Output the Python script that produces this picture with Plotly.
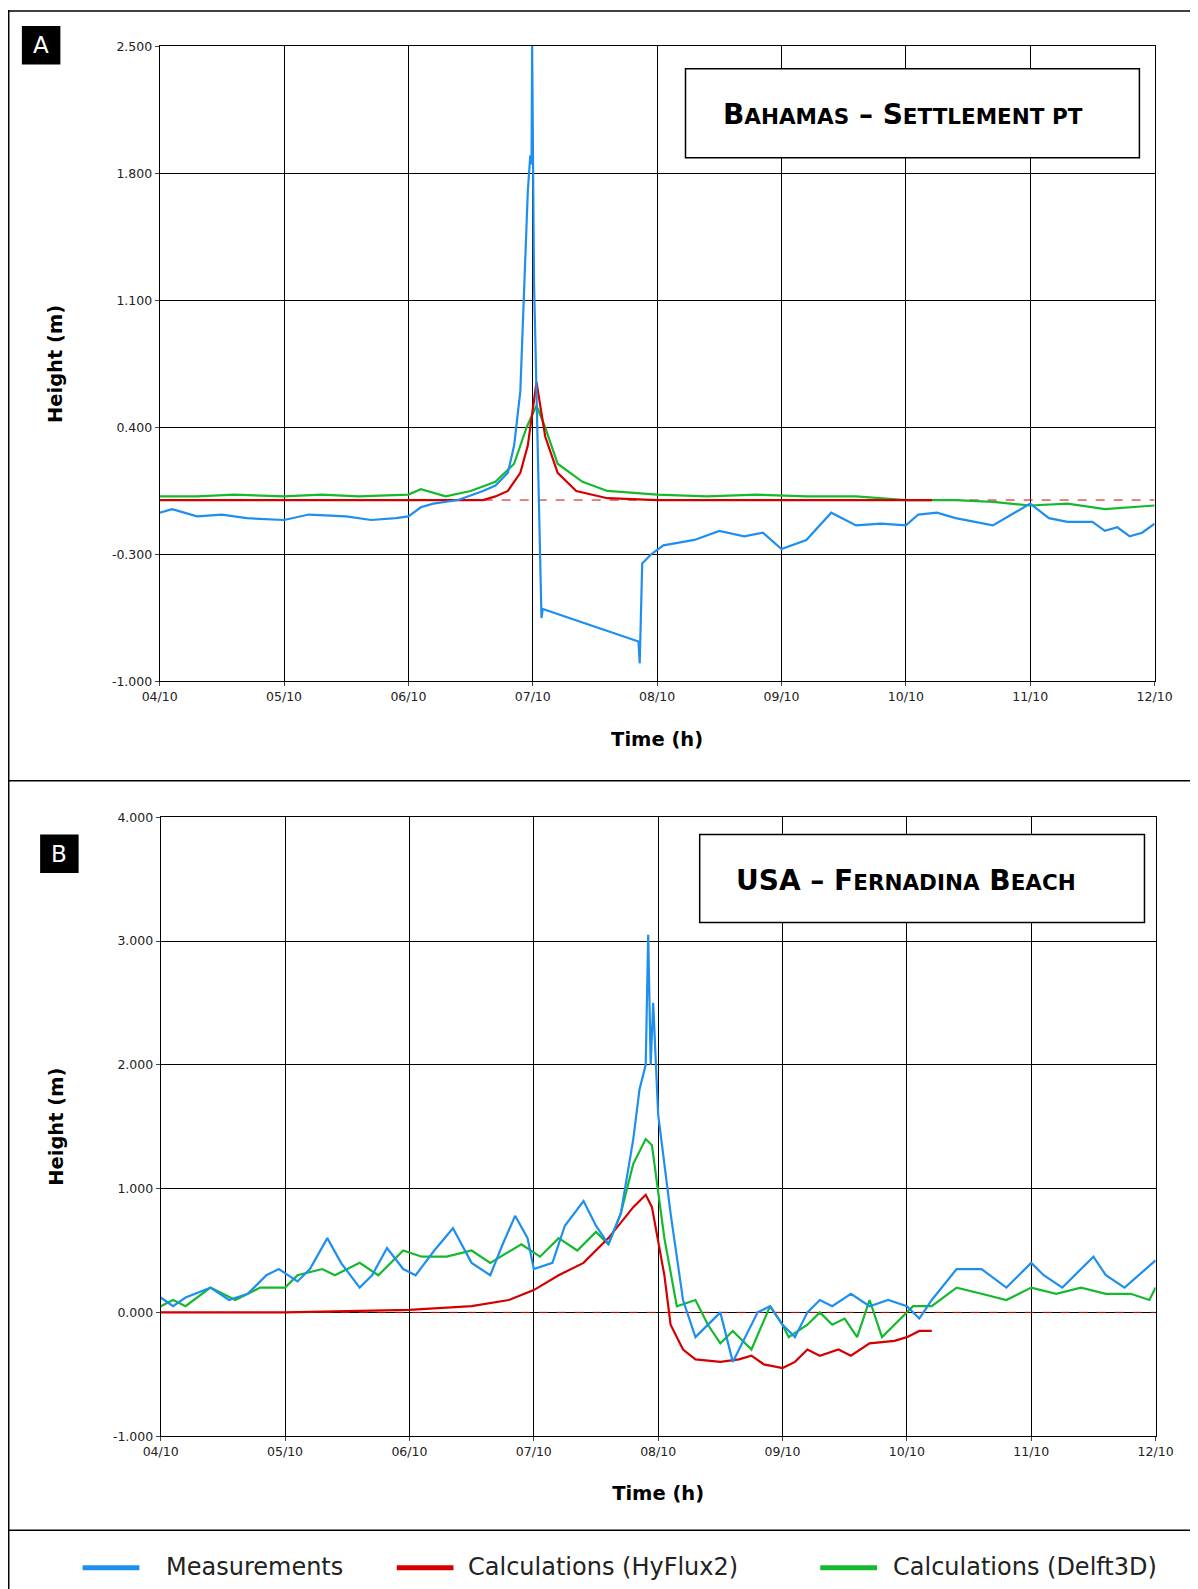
import plotly.graph_objects as go

SX, SY, OX, OY = 0.958, 0.978, 16.4, 6.2
def fx(x): return (x - OX) / SX - 8
def fy(y): return (y - OY) / SY - 8
FW, FH = round(fx(1198)), round(fy(1589))

day_ticks = [0, 1, 2, 3, 4, 5, 6, 7, 8]
day_labels = ["04/10", "05/10", "06/10", "07/10", "08/10", "09/10", "10/10", "11/10", "12/10"]
a_yticks = [2.5, 1.8, 1.1, 0.4, -0.3, -1.0]
a_ylabels = ["2.500", "1.800", "1.100", "0.400", "-0.300", "-1.000"]
b_yticks = [4.0, 3.0, 2.0, 1.0, 0.0, -1.0]
b_ylabels = ["4.000", "3.000", "2.000", "1.000", "0.000", "-1.000"]

a_meas_t = [0, 0.1, 0.3, 0.5, 0.7, 1.0, 1.2, 1.5, 1.7, 1.9, 2.0, 2.1, 2.2, 2.4, 2.6, 2.7, 2.8, 2.85, 2.9, 2.93, 2.96, 2.98, 2.99, 2.995, 3.0, 3.01, 3.02, 3.05, 3.07, 3.08, 3.85, 3.86, 3.87, 3.88, 3.95, 4.05, 4.3, 4.5, 4.7, 4.85, 5.0, 5.2, 5.4, 5.6, 5.8, 6.0, 6.1, 6.25, 6.4, 6.55, 6.7, 6.85, 7.0, 7.15, 7.3, 7.5, 7.6, 7.7, 7.8, 7.9, 8.0]
a_meas_v = [-0.07, -0.05, -0.09, -0.08, -0.1, -0.11, -0.08, -0.09, -0.11, -0.1, -0.09, -0.04, -0.02, 0.0, 0.05, 0.08, 0.15, 0.3, 0.6, 1.1, 1.7, 1.9, 1.85, 2.5, 1.8, 1.2, 0.9, -0.15, -0.65, -0.6, -0.78, -0.9, -0.55, -0.35, -0.3, -0.25, -0.22, -0.17, -0.2, -0.18, -0.27, -0.22, -0.07, -0.14, -0.13, -0.14, -0.08, -0.07, -0.1, -0.12, -0.14, -0.08, -0.02, -0.1, -0.12, -0.12, -0.17, -0.15, -0.2, -0.18, -0.13]
a_hy_t = [0, 1, 2, 2.6, 2.7, 2.8, 2.9, 2.96, 3.03, 3.1, 3.2, 3.35, 3.6, 4.0, 5.0, 6.21]
a_hy_v = [0.0, 0.0, 0.0, 0.0, 0.02, 0.05, 0.15, 0.3, 0.65, 0.35, 0.15, 0.05, 0.01, 0.0, 0.0, 0.0]
a_d3_t = [0, 0.3, 0.6, 1.0, 1.3, 1.6, 2.0, 2.1, 2.3, 2.5, 2.7, 2.85, 2.95, 3.03, 3.1, 3.2, 3.4, 3.6, 4.0, 4.4, 4.8, 5.2, 5.6, 6.0, 6.4, 6.7, 7.0, 7.3, 7.6, 8.0]
a_d3_v = [0.02, 0.02, 0.03, 0.02, 0.03, 0.02, 0.03, 0.06, 0.02, 0.05, 0.1, 0.2, 0.4, 0.52, 0.4, 0.2, 0.1, 0.05, 0.03, 0.02, 0.03, 0.02, 0.02, 0.0, 0.0, -0.01, -0.03, -0.02, -0.05, -0.03]

b_meas_t = [0, 0.1, 0.2, 0.4, 0.55, 0.7, 0.85, 0.95, 1.1, 1.2, 1.34, 1.45, 1.6, 1.7, 1.82, 1.95, 2.05, 2.2, 2.35, 2.5, 2.65, 2.75, 2.85, 2.95, 3.0, 3.15, 3.25, 3.4, 3.5, 3.6, 3.7, 3.8, 3.85, 3.9, 3.92, 3.94, 3.96, 4.0, 4.1, 4.2, 4.3, 4.4, 4.5, 4.6, 4.7, 4.8, 4.9, 5.0, 5.1, 5.2, 5.3, 5.4, 5.55, 5.7, 5.85, 6.0, 6.1, 6.2, 6.4, 6.6, 6.8, 7.0, 7.1, 7.25, 7.5, 7.6, 7.75, 8.0]
b_meas_v = [0.12, 0.05, 0.12, 0.2, 0.1, 0.15, 0.3, 0.35, 0.25, 0.35, 0.6, 0.4, 0.2, 0.3, 0.52, 0.35, 0.3, 0.5, 0.68, 0.4, 0.3, 0.55, 0.78, 0.6, 0.35, 0.4, 0.7, 0.9, 0.7, 0.55, 0.8, 1.4, 1.8, 2.0, 3.05, 2.0, 2.5, 1.6, 0.8, 0.1, -0.2, -0.1, 0.0, -0.4, -0.2, 0.0, 0.05, -0.1, -0.2, 0.0, 0.1, 0.05, 0.15, 0.05, 0.1, 0.05, -0.05, 0.1, 0.35, 0.35, 0.2, 0.4, 0.3, 0.2, 0.45, 0.3, 0.2, 0.42]
b_hy_t = [0, 1, 2, 2.5, 2.8, 3.0, 3.2, 3.4, 3.6, 3.8, 3.9, 3.95, 4.05, 4.1, 4.2, 4.3, 4.5, 4.65, 4.75, 4.85, 5.0, 5.1, 5.2, 5.3, 5.45, 5.55, 5.7, 5.9, 6.0, 6.1, 6.2]
b_hy_v = [0.0, 0.0, 0.02, 0.05, 0.1, 0.18, 0.3, 0.4, 0.6, 0.85, 0.95, 0.85, 0.3, -0.1, -0.3, -0.38, -0.4, -0.38, -0.35, -0.42, -0.45, -0.4, -0.3, -0.35, -0.3, -0.35, -0.25, -0.23, -0.2, -0.15, -0.15]
b_d3_t = [0, 0.1, 0.2, 0.4, 0.6, 0.8, 1.0, 1.1, 1.3, 1.4, 1.6, 1.75, 1.95, 2.1, 2.3, 2.5, 2.65, 2.9, 3.05, 3.2, 3.35, 3.5, 3.6, 3.7, 3.8, 3.9, 3.95, 4.05, 4.15, 4.3, 4.4, 4.5, 4.6, 4.75, 4.9, 5.0, 5.05, 5.2, 5.3, 5.4, 5.5, 5.6, 5.7, 5.8, 5.9, 6.05, 6.2, 6.4, 6.6, 6.8, 7.0, 7.2, 7.4, 7.6, 7.8, 7.95, 8.0]
b_d3_v = [0.05, 0.1, 0.05, 0.2, 0.1, 0.2, 0.2, 0.3, 0.35, 0.3, 0.4, 0.3, 0.5, 0.45, 0.45, 0.5, 0.4, 0.55, 0.45, 0.6, 0.5, 0.65, 0.55, 0.8, 1.2, 1.4, 1.35, 0.6, 0.05, 0.1, -0.1, -0.25, -0.15, -0.3, 0.05, -0.1, -0.2, -0.1, 0.0, -0.1, -0.05, -0.2, 0.1, -0.2, -0.1, 0.05, 0.05, 0.2, 0.15, 0.1, 0.2, 0.15, 0.2, 0.15, 0.15, 0.1, 0.2]

BLUE, RED, GREEN = "#1e8fef", "#d40000", "#16b82e"
fig = go.Figure()
def add(t, v, c, ax):
    fig.add_trace(go.Scatter(x=t, y=v, mode="lines", line=dict(color=c, width=2.2),
                             xaxis="x" + ax, yaxis="y" + ax, showlegend=False))
for ax in ("", "2"):
    fig.add_trace(go.Scatter(x=[0, 8], y=[0, 0], mode="lines", line=dict(color=RED, width=1, dash="dash"),
                             xaxis="x" + ax, yaxis="y" + ax, showlegend=False))
add(a_d3_t, a_d3_v, GREEN, ""); add(a_hy_t, a_hy_v, RED, ""); add(a_meas_t, a_meas_v, BLUE, "")
add(b_d3_t, b_d3_v, GREEN, "2"); add(b_hy_t, b_hy_v, RED, "2"); add(b_meas_t, b_meas_v, BLUE, "2")

px = lambda x: fx(x) / FW
py = lambda y: 1 - fy(y) / FH
tf = dict(family="DejaVu Sans", size=12.5, color="#222")
def xax(dom, anchor):
    return dict(domain=dom, range=[0, 8], tickvals=day_ticks, ticktext=day_labels, showgrid=True,
                gridcolor="black", gridwidth=1, showline=True, linecolor="black", mirror=True,
                ticks="outside", ticklen=4, tickfont=tf, zeroline=False, anchor=anchor,
                title=dict(text="<b>Time (h)</b>", font=dict(family="DejaVu Sans", size=19.5, color="black"), standoff=28))
def yax(dom, rng, tv, tt, anchor):
    return dict(domain=dom, range=rng, tickvals=tv, ticktext=tt, showgrid=True, gridcolor="black",
                gridwidth=1, showline=True, linecolor="black", mirror=True, ticks="outside", ticklen=4,
                tickfont=tf, zeroline=False, anchor=anchor,
                title=dict(text="<b>Height (m)</b>", font=dict(family="DejaVu Sans", size=19.5, color="black"), standoff=44))
fig.update_layout(
    width=FW, height=FH, margin=dict(l=0, r=0, t=0, b=0), paper_bgcolor="white", plot_bgcolor="white",
    xaxis=xax([px(156), px(1138)], "y"), yaxis=yax([py(671), py(44)], [-1.0, 2.5], a_yticks, a_ylabels, "x"),
    xaxis2=xax([px(157), px(1139)], "y2"), yaxis2=yax([py(1416), py(805)], [-1.0, 4.0], b_yticks, b_ylabels, "x2"),
)
shapes = []
for (x0, y0, x1, y1) in [(6, 9, 1182, 9), (7, 8, 7, 1589), (6, 769, 1182, 769), (6, 1509, 1182, 1509)]:
    shapes.append(dict(type="line", xref="paper", yref="paper", x0=px(x0), y0=py(y0), x1=px(x1), y1=py(y1),
                       line=dict(color="black", width=1.5)))
for (x0, y0, x1, y1) in [(675, 66, 1123, 154), (689, 822, 1128, 909)]:
    shapes.append(dict(type="rect", xref="paper", yref="paper", x0=px(x0), y0=py(y0), x1=px(x1), y1=py(y1),
                       line=dict(color="black", width=1.5), fillcolor="white"))
for (x0, y0) in [(20, 24), (38, 822)]:
    shapes.append(dict(type="rect", xref="paper", yref="paper", x0=px(x0), y0=py(y0), x1=px(x0 + 38), y1=py(y0 + 38),
                       line=dict(width=0), fillcolor="black"))
for (x0, c) in [(80, BLUE), (390, RED), (808, GREEN)]:
    shapes.append(dict(type="line", xref="paper", yref="paper", x0=px(x0), x1=px(x0 + 56), y0=py(1546), y1=py(1546),
                       line=dict(color=c, width=5)))
fig.update_layout(shapes=shapes)
ann = []
def A(x, y, text, size, color="black", xanchor="center"):
    ann.append(dict(xref="paper", yref="paper", x=px(x), y=py(y), text=text, showarrow=False, xanchor=xanchor,
                    yanchor="middle", font=dict(family="DejaVu Sans", size=size, color=color)))
sc = lambda s: "<span style='font-size:21.5px'>" + s + "</span>"
A(890, 111, "<b>B" + sc("AHAMAS") + " – S" + sc("ETTLEMENT PT") + "</b>", 28)
A(893, 867, "<b>USA – F" + sc("ERNADINA") + " B" + sc("EACH") + "</b>", 28)
A(39, 43, "A", 23, "white"); A(57, 841, "B", 23, "white")
A(160, 1545, "Measurements", 24, "#222", "left")
A(458, 1545, "Calculations (HyFlux2)", 24, "#222", "left")
A(878, 1545, "Calculations (Delft3D)", 24, "#222", "left")
fig.update_layout(annotations=ann)
fig.write_html("out.html")
